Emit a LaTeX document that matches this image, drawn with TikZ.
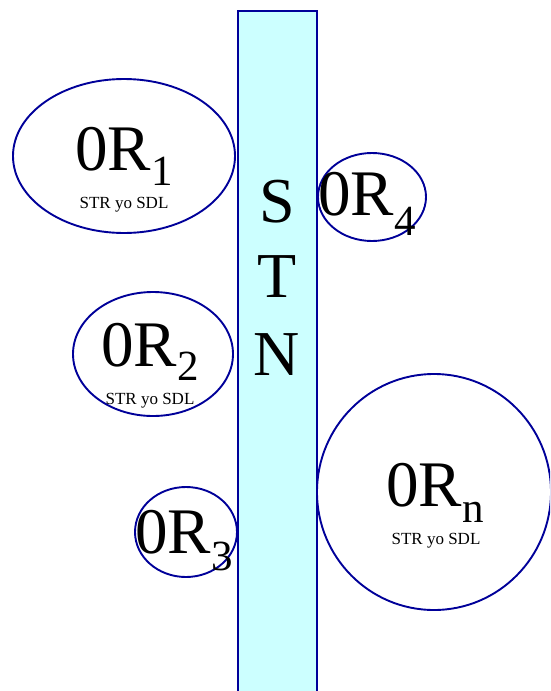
\documentclass[tikz,border=0pt]{standalone}
\usepackage{fontspec}
\setmainfont{Liberation Serif}
\usetikzlibrary{shapes.geometric}
\definecolor{edgeblue}{RGB}{0,0,153}
\definecolor{barfill}{RGB}{204,255,255}
\newcommand{\orlabel}[2]{{\fontsize{65}{65}\selectfont 0R}\raisebox{-#2pt}{\fontsize{43}{43}\selectfont #1}}
\tikzset{
  orell/.style={ellipse, draw=edgeblue, line width=1.9pt, inner sep=0pt},
  bigtext/.style={anchor=base west, inner sep=0pt},
  smalltext/.style={anchor=base, inner sep=0pt, font=\fontsize{17}{17}\selectfont},
  stnletter/.style={inner sep=0pt, anchor=base, font=\fontsize{64}{64}\selectfont},
}
\begin{document}
\begin{tikzpicture}[x=1pt,y=-1pt]
\useasboundingbox (0,0) rectangle (550,691);
\clip (0,0) rectangle (550,691);
\node[draw=edgeblue, fill=barfill, line width=2pt, minimum width=79pt, minimum height=700pt, inner sep=0pt, anchor=north west] (bar) at (237,10) {};
\node[stnletter] (s) at (277,222) {S};
\node[stnletter] (t) at (277,297) {T};
\node[stnletter] (n) at (277,375) {N};
\node[orell, minimum width=222pt, minimum height=154pt] (e1) at (124,156) {};
\node[orell, minimum width=108pt, minimum height=88pt] (e4) at (372,197) {};
\node[orell, minimum width=160pt, minimum height=124pt] (e2) at (153,354) {};
\node[orell, minimum width=102pt, minimum height=90pt] (e3) at (186,532) {};
\node[orell, minimum width=234pt, minimum height=236pt] (en) at (434,492) {};
\node[bigtext] (l1) at (75,170) {\orlabel{1}{15}};
\node[smalltext] (s1) at (124,208) {STR yo SDL};
\node[bigtext] (l4) at (318,215) {\orlabel{4}{20}};
\node[bigtext] (l2) at (101,366) {\orlabel{2}{14}};
\node[smalltext] (s2) at (150,404) {STR yo SDL};
\node[bigtext] (l3) at (135,553) {\orlabel{3}{17}};
\node[bigtext] (ln) at (386,506) {\orlabel{n}{16}};
\node[smalltext] (sn) at (436,544) {STR yo SDL};
\end{tikzpicture}
\end{document}
